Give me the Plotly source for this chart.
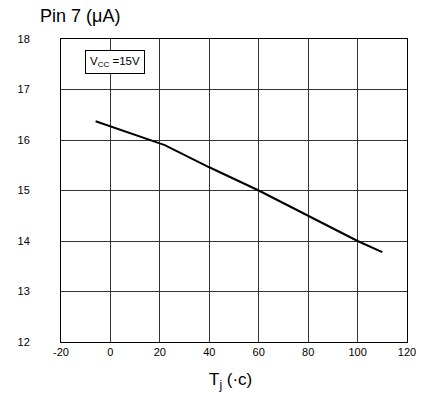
import plotly.graph_objects as go

# data
tj = [-6, 8, 22, 40, 60, 80, 100, 110]
current = [16.37, 16.14, 15.9, 15.46, 15.0, 14.5, 14.0, 13.78]
x_ticks = [-20, 0, 20, 40, 60, 80, 100, 120]
y_ticks = [12, 13, 14, 15, 16, 17, 18]

FONT = "Liberation Sans, Arial, sans-serif"

fig = go.Figure()
fig.add_trace(go.Scatter(x=tj, y=current, mode="lines",
                         line=dict(color="black", width=2), showlegend=False,
                         hoverinfo="skip"))

fig.update_layout(
    width=421, height=399, autosize=False,
    margin=dict(l=61, r=14, t=39, b=57, pad=0),
    paper_bgcolor="white", plot_bgcolor="white",
    font=dict(family=FONT, color="black", size=11),
    xaxis=dict(range=[-20, 120], tickvals=x_ticks, ticktext=[str(v) for v in x_ticks],
               showgrid=True, gridcolor="#333", gridwidth=1,
               showline=True, linecolor="black", linewidth=1, mirror=True,
               zeroline=False, ticks="", ticklabelstandoff=0, automargin=False,
               tickfont=dict(size=11, family=FONT)),
    yaxis=dict(range=[12, 18], tickvals=y_ticks, ticktext=[str(v) for v in y_ticks],
               showgrid=True, gridcolor="#333", gridwidth=1,
               showline=True, linecolor="black", linewidth=1, mirror=True,
               zeroline=False, ticks="", ticklabelstandoff=28, automargin=False,
               tickfont=dict(size=11, family=FONT)),
    annotations=[
        dict(text="Pin 7 (μA)", xref="paper", yref="paper", x=-0.066, y=1.076,
             xanchor="left", yanchor="middle", showarrow=False,
             font=dict(size=18, family=FONT, color="black")),
        dict(text="T<sub>j</sub> (·c)", xref="paper", yref="paper", x=0.49, y=-0.13,
             xanchor="center", yanchor="middle", showarrow=False,
             font=dict(size=17, family=FONT, color="black")),
        dict(text="V<sub>CC</sub> =15V", xref="paper", yref="paper", x=0.1575, y=0.924,
             xanchor="center", yanchor="middle", showarrow=False,
             bordercolor="black", borderwidth=1, bgcolor="white", borderpad=4,
             font=dict(size=11.5, family=FONT, color="black")),
    ],
)

fig.write_html("out.html")
